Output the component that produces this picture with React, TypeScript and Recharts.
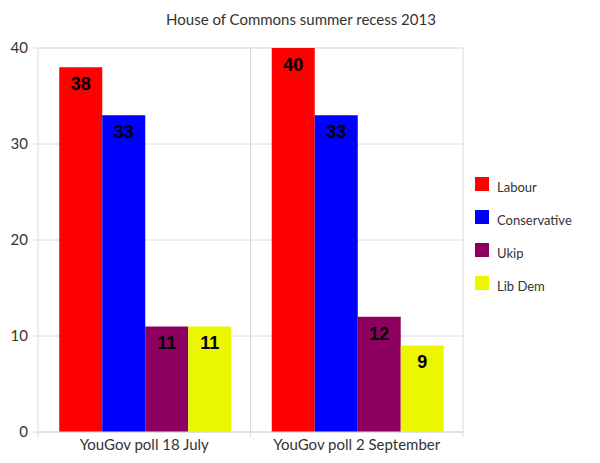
import { BarChart, Bar, XAxis, YAxis, CartesianGrid, Legend, LabelList } from "recharts";

const categories = ["YouGov poll 18 July", "YouGov poll 2 September"];
const labour = [38, 40];
const conservative = [33, 33];
const ukip = [11, 12];
const libDem = [11, 9];
const yTicks = [0, 10, 20, 30, 40];
const minorTicks = [5, 15, 25, 35];

const series = [
  { key: "labour", name: "Labour", values: labour, color: "#ff0000" },
  { key: "conservative", name: "Conservative", values: conservative, color: "#0000ff" },
  { key: "ukip", name: "Ukip", values: ukip, color: "#8e0060" },
  { key: "libDem", name: "Lib Dem", values: libDem, color: "#ebf700" },
];

const data = categories.map((name, i) => {
  const row: Record<string, string | number> = { name };
  series.forEach((s) => (row[s.key] = s.values[i]));
  return row;
});

const FONT = "Lato, 'Noto Sans', sans-serif";
const GRID = "#dadada";

function CategoryTick(props: any) {
  const { x, y, payload, index } = props;
  const half = payload.offset ?? 0;
  return (
    <g>
      <line x1={x - half} x2={x - half} y1={y - 5} y2={y} stroke={GRID} />
      {index === categories.length - 1 && (
        <line x1={x + half} x2={x + half} y1={y - 5} y2={y} stroke={GRID} />
      )}
      <text x={x} y={y + 13} textAnchor="middle" fill="#333" fontSize={15} fontFamily={FONT}>
        {payload.value}
      </text>
    </g>
  );
}

function LegendBox() {
  return (
    <div style={{ paddingLeft: 12, fontFamily: FONT, fontSize: 13, color: "#333" }}>
      {series.map((s) => (
        <div key={s.key} style={{ display: "flex", height: 33 }}>
          <span style={{ width: 14, height: 14, background: s.color, display: "inline-block" }} />
          <span style={{ marginLeft: 8, lineHeight: "14px", paddingTop: 3 }}>{s.name}</span>
        </div>
      ))}
    </div>
  );
}

export default function App() {
  return (
    <div style={{ position: "absolute", left: 0, top: 0, width: 600, height: 463, background: "#fff" }}>
      <div
        style={{
          position: "absolute",
          left: 0,
          width: 602,
          top: 10,
          textAlign: "center",
          fontFamily: FONT,
          fontSize: 15,
          color: "#333",
        }}
      >
        House of Commons summer recess 2013
      </div>
      <BarChart
        width={600}
        height={463}
        data={data}
        margin={{ top: 48, right: 17, bottom: 0, left: 0 }}
        barCategoryGap="10%"
        barGap={0}
      >
        {/* minor grid at the half steps, drawn from a hidden axis */}
        <CartesianGrid yAxisId="minor" stroke="#f1f1f1" vertical={false} />
        <CartesianGrid
          stroke={GRID}
          verticalCoordinatesGenerator={({ offset }: any) => [
            offset.left + offset.width / 2,
            offset.left + offset.width,
          ]}
        />
        <XAxis
          dataKey="name"
          height={31}
          stroke={GRID}
          tickLine={false}
          tickSize={5}
          tickMargin={0}
          tick={<CategoryTick />}
          interval={0}
        />
        <YAxis
          width={38}
          domain={[0, 40]}
          ticks={yTicks}
          stroke={GRID}
          tickSize={5}
          tickMargin={5}
          tick={{ fill: "#333", fontSize: 15, fontFamily: FONT }}
        />
        <YAxis yAxisId="minor" hide domain={[0, 40]} ticks={minorTicks} />
        <Legend
          layout="vertical"
          align="right"
          verticalAlign="middle"
          wrapperStyle={{ width: 120, left: 463, top: 177 }}
          content={() => <LegendBox />}
        />
        {series.map((s) => (
          <Bar key={s.key} dataKey={s.key} name={s.name} fill={s.color} isAnimationActive={false}>
            <LabelList
              dataKey={s.key}
              position="insideTop"
              offset={10}
              fill="#000"
              fontSize={18}
              fontWeight="bold"
              fontFamily="'Liberation Sans', Arial, sans-serif"
            />
          </Bar>
        ))}
      </BarChart>
    </div>
  );
}
